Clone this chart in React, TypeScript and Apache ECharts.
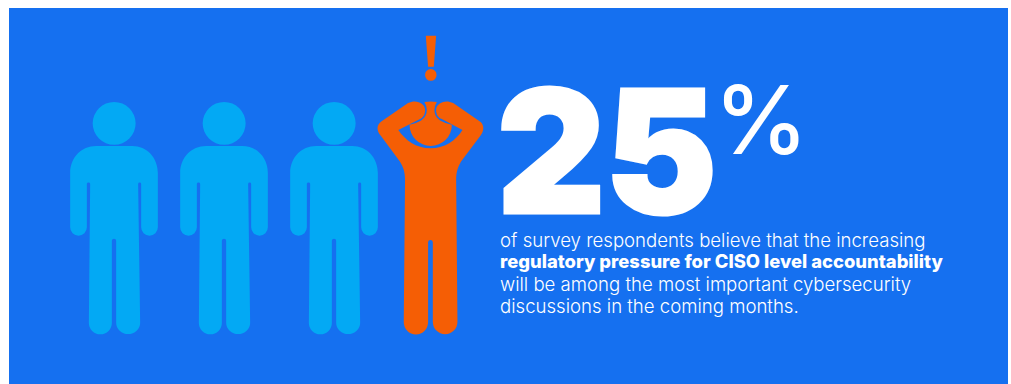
import React, { useEffect, useRef } from "react";
import * as echarts from "echarts";

const bigValue = "25";
const percentSign = "%";
const bodyLines = [
  { text: "of survey respondents believe that the increasing", bold: false },
  { text: "regulatory pressure for CISO level accountability", bold: true },
  { text: "will be among the most important cybersecurity", bold: false },
  { text: "discussions in the coming months.", bold: false },
];

// Figure anchors on a pixel-scaled axis: [centre x, centre y]
const calmPeople = [
  [114, 218],
  [224, 218],
  [334, 218],
];
const worriedPeople = [[430.4, 185]];

const personPath =
  "M92.5 123.3A21.5 21.5 0 1 1 135.5 123.3A21.5 21.5 0 1 1 92.5 123.3Z" +
  "M96 146H132C147 146 157.7 158 157.7 173V227.5A8.35 8.35 0 0 1 141 227.5V184Q141 182.7 139.5 182.7Q138 182.7 138 184L140 323A12 11.5 0 0 1 116 323V241A2.15 2.15 0 0 0 111.7 241V323A11.5 11.5 0 0 1 88.7 323L90 184Q90 182.7 88.4 182.7Q86.7 182.7 86.7 184V227.5A8.35 8.35 0 0 1 70 227.5V173C70 158 81 146 96 146Z";

const worriedPath =
  // exclamation mark
  "M425.7 35.7H436L433.7 66.7H428Z" +
  "M425 75A5.7 5.7 0 1 1 436.4 75A5.7 5.7 0 1 1 425 75Z" +
  // head held between the hands
  "M424.3 102Q430.5 100.8 436.7 102Q434.3 106 434.3 110Q434.3 116.5 440 120.5Q445 123.5 451.7 124.8A21 21 0 0 1 409.5 124.8Q416 123.5 421 120.5Q426.7 116.5 426.7 110Q426.7 106 424.3 102Z" +
  // body and raised arms
  "M405 180C405 171 403 167 400 161.7L381 136C375.5 130 377 124 382 121L408 103C416 99 425 103 425 110C425 115 423 117.5 420 119L398.3 130C405 140 416 148.3 430.5 148.3C445 148.3 456 140 462.3 130L441.7 119C438 117.5 436 115 436 110C436 103 445 99 453 103L479 121C484 124 484.5 130 480 136L460.7 161.7C458 167 456 171 456 180L457.3 321.7A12.3 12.6 0 0 1 432.7 321.7V242.3A2.35 2.35 0 0 0 428 242.3V321.7A12.15 12.6 0 0 1 403.7 321.7Z";

export default function App() {
  const ref = useRef<HTMLDivElement>(null);

  useEffect(() => {
    const chart = echarts.init(ref.current!, undefined, { renderer: "svg" });
    chart.setOption({
      animation: false,
      grid: { left: 0, right: 0, top: 0, bottom: 0 },
      xAxis: { type: "value", min: 0, max: 1011, show: false },
      yAxis: { type: "value", min: 0, max: 384, inverse: true, show: false },
      graphic: [
        {
          type: "rect",
          z: -1,
          silent: true,
          shape: { x: 9, y: 8, width: 999, height: 376 },
          style: { fill: "#1570F0" },
        },
        {
          type: "text",
          x: 497,
          y: 85,
          scaleX: 0.98,
          style: {
            text: bigValue,
            fill: "#ffffff",
            stroke: "#ffffff",
            lineWidth: 3,
            font: "900 171px Inter",
            lineHeight: 131,
            verticalAlign: "top",
          },
        },
        {
          type: "text",
          x: 714,
          y: 72,
          style: {
            text: percentSign,
            fill: "#ffffff",
            font: "500 95px Inter",
            verticalAlign: "top",
          },
        },
        ...bodyLines.map((line, i) => ({
          type: "text",
          x: 500,
          y: 230 + i * 22,
          style: {
            text: line.text,
            fill: "#ffffff",
            font: `${line.bold ? 800 : 300} ${line.bold ? 18.4 : 18.6}px Inter`,
            verticalAlign: "top",
          },
        })),
      ],
      series: [
        {
          type: "scatter",
          silent: true,
          symbol: "path://" + personPath,
          symbolSize: [87.7, 232.2],
          itemStyle: { color: "#03A9F4", opacity: 1 },
          data: calmPeople,
        },
        {
          type: "scatter",
          silent: true,
          symbol: "path://" + worriedPath,
          symbolSize: [105.8, 298.6],
          itemStyle: { color: "#F55E05", opacity: 1 },
          data: worriedPeople,
        },
      ],
    });
    return () => chart.dispose();
  }, []);

  return (
    <div
      ref={ref}
      style={{ position: "absolute", left: 0, top: 0, width: 1011, height: 384 }}
    />
  );
}
